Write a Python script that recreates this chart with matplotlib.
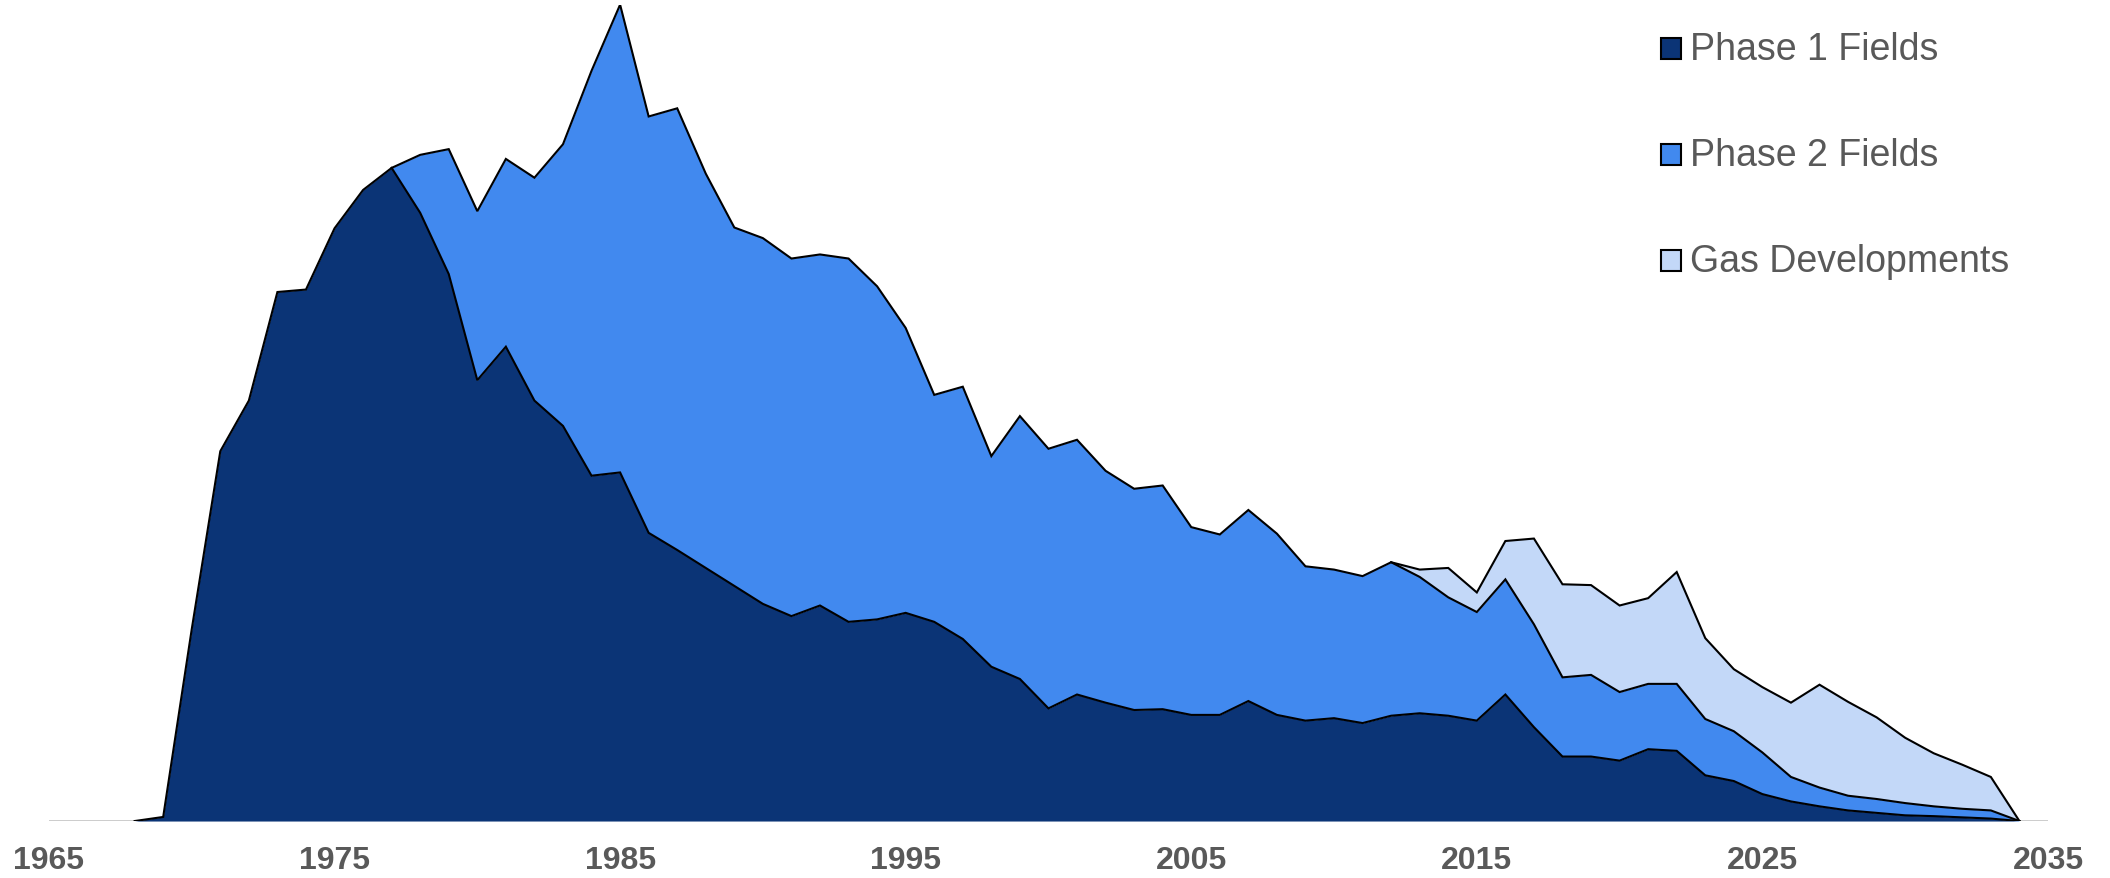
import numpy as np
import matplotlib.pyplot as plt
from matplotlib.patches import Rectangle

# --- data (peak of the total = 100) ---
years = list(range(1968, 2035))

phase1 = [0.0, 0.5, 23.5, 45.3, 51.5, 64.8, 65.1, 72.6, 77.3, 80.0,
          74.5, 67.0, 54.0, 58.1, 51.5, 48.4, 42.3, 42.7, 35.3, 33.2,
          31.0, 28.8, 26.6, 25.1, 26.4, 24.4, 24.7, 25.5, 24.4, 22.3,
          18.9, 17.4, 13.8, 15.5, 14.5, 13.6, 13.7, 13.0, 13.0, 14.7,
          13.0, 12.3, 12.6, 12.0, 12.9, 13.2, 12.9, 12.3, 15.5, 11.5,
          7.9, 7.9, 7.4, 8.8, 8.6, 5.6, 4.9, 3.3, 2.4, 1.8,
          1.3, 1.0, 0.7, 0.6, 0.45, 0.3, 0.0]

phase2 = [0.0] * 9 + [
          0.0, 7.1, 15.3, 20.7, 23.0, 27.3, 34.5, 49.6, 57.3, 51.0,
          54.1, 48.3, 43.9, 44.8, 43.8, 43.0, 44.5, 40.8, 34.9, 27.8,
          30.9, 25.8, 32.2, 31.8, 31.2, 28.4, 27.1, 27.4, 23.0, 22.1,
          23.4, 22.2, 18.9, 18.2, 18.0, 18.8, 16.7, 14.5, 13.3, 14.1,
          12.6, 9.7, 10.0, 8.4, 8.0, 8.2, 6.9, 6.1, 5.1, 3.0,
          2.3, 1.8, 1.7, 1.5, 1.2, 1.05, 1.0, 0.0]

gas = [0.0] * 44 + [
       0.0, 0.9, 3.6, 2.4, 4.7, 10.5, 11.4, 11.0, 10.6, 10.5,
       13.7, 9.9, 7.6, 8.0, 9.1, 12.6, 11.5, 10.0, 8.0, 6.5,
       5.4, 4.1, 0.0]

labels = ["Phase 1 Fields", "Phase 2 Fields", "Gas Developments"]
colors = ["#0b3476", "#4189ef", "#c3d8f8"]
line_start = [1968, 1977, 2012]   # first year each layer's top edge is drawn
tick_years = list(range(1965, 2036, 10))

# --- figure ---
fig = plt.figure(figsize=(21.10, 8.79), dpi=100)
ax = fig.add_axes([0.0232, 0.0648, 0.9474, 0.9288])

x = np.array(years)
layers = [np.array(phase1), np.array(phase2), np.array(gas)]
bottom = np.zeros(len(x))
for vals, col, start in zip(layers, colors, line_start):
    top = bottom + vals
    ax.fill_between(x, bottom, top, color=col, linewidth=0, zorder=2)
    m = x >= start
    ax.plot(x[m], top[m], color="black", linewidth=1.5, zorder=3,
            solid_joinstyle="miter")
    bottom = top

ax.set_xlim(1965, 2035)
ax.set_ylim(0, 100)
ax.axhline(0, color="#c8c8c8", linewidth=2, zorder=1)

for s in ax.spines.values():
    s.set_visible(False)
ax.set_yticks([])
ax.set_xticks(tick_years)
ax.set_xticklabels([str(t) for t in tick_years], fontsize=23,
                   fontweight="bold", color="#595959", family="Liberation Sans")
ax.tick_params(axis="x", length=0, pad=17)

# --- legend drawn by hand, top right ---
W, H = fig.get_size_inches() * fig.dpi
for i, (lab, col) in enumerate(zip(labels, colors)):
    cy = 50 + i * 106
    fig.patches.append(Rectangle((1661 / W, 1 - (cy + 10) / H), 20 / W, 21 / H,
                                 transform=fig.transFigure, facecolor=col,
                                 edgecolor="black", linewidth=1.5))
    fig.text(1690 / W, 1 - cy / H, lab, fontsize=27, color="#595959",
             family="Liberation Sans", va="center", ha="left")

fig.savefig("out.png", dpi=100)
